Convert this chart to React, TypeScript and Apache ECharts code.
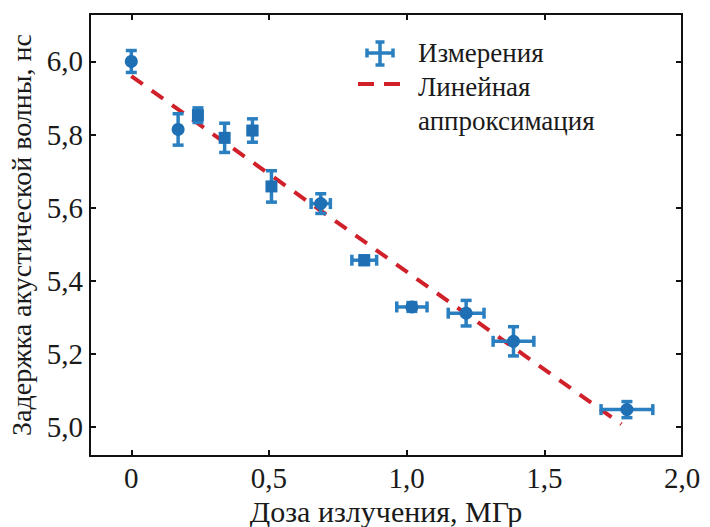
import React, { useEffect, useRef } from "react";
import * as echarts from "echarts";

const doseX = [0, 0.17, 0.242, 0.339, 0.44, 0.509, 0.688, 0.846, 1.019, 1.216, 1.388, 1.8];
const delayY = [6.0, 5.814, 5.853, 5.791, 5.811, 5.658, 5.611, 5.456, 5.328, 5.311, 5.234, 5.047];
const doseErr = [0, 0, 0.01, 0.01, 0.015, 0.01, 0.035, 0.045, 0.055, 0.065, 0.074, 0.094];
const delayErr = [0.03, 0.043, 0.02, 0.04, 0.032, 0.043, 0.027, 0.012, 0.012, 0.035, 0.04, 0.022];
const markerShapes = ["circle", "circle", "rect", "rect", "rect", "rect", "circle", "rect", "circle", "circle", "circle", "circle"];
const fitX = [0, 1.78];
const fitY = [5.96, 5.007];
const xTicks = [0, 0.5, 1.0, 1.5, 2.0];
const yTicks = [5.0, 5.2, 5.4, 5.6, 5.8, 6.0];

const BLUE = "#1f6fb4";
const BAR = "#2a7fc0";
const RED = "#d0202a";
const FONT = "Times New Roman, Liberation Serif, DejaVu Serif, serif";
const fmt = (v: number) => (v === 0 ? "0" : v.toFixed(1).replace(".", ","));

export default function App() {
  const ref = useRef<HTMLDivElement>(null);
  useEffect(() => {
    if (!ref.current) return;
    const chart = echarts.init(ref.current, undefined, { renderer: "svg" });
    const lineStyle = { color: "#111", width: 2 };
    const tick = (vals: number[]) => ({ show: true, inside: true, length: 6, customValues: vals, lineStyle });
    const xBase = { type: "value", min: -0.15, max: 2.0, splitLine: { show: false } };
    const yBase = { type: "value", min: 4.92, max: 6.13, splitLine: { show: false } };
    const labelStyle = { fontFamily: FONT, fontSize: 29, color: "#1a1a1a" };
    const option: any = {
      animation: false,
      backgroundColor: "#fff",
      textStyle: { fontFamily: FONT },
      grid: { left: 90, right: 28, top: 14, bottom: 71, containLabel: false, outerBoundsMode: "none" },
      xAxis: [
        {
          ...xBase,
          position: "bottom",
          axisLine: { show: true, onZero: false, lineStyle },
          axisTick: tick(xTicks),
          axisLabel: { ...labelStyle, customValues: xTicks, formatter: fmt, margin: 7 },
          name: "Доза излучения, МГр",
          nameLocation: "middle",
          nameGap: 35,
          nameTextStyle: { fontFamily: FONT, fontSize: 30, color: "#1a1a1a" },
        },
        {
          ...xBase,
          position: "top",
          axisLine: { show: true, onZero: false, lineStyle },
          axisTick: tick(xTicks),
          axisLabel: { show: false },
        },
      ],
      yAxis: [
        {
          ...yBase,
          position: "left",
          axisLine: { show: true, onZero: false, lineStyle },
          axisTick: tick(yTicks),
          axisLabel: { ...labelStyle, customValues: yTicks, formatter: fmt, margin: 7 },
          name: "Задержка акустической волны, нс",
          nameLocation: "middle",
          nameRotate: 90,
          nameGap: 44,
          nameTextStyle: { fontFamily: FONT, fontSize: 28, color: "#1a1a1a" },
        },
        {
          ...yBase,
          position: "right",
          axisLine: { show: true, onZero: false, lineStyle },
          axisTick: tick(yTicks),
          axisLabel: { show: false },
        },
      ],
      series: [
        {
          type: "line",
          name: "Линейная аппроксимация",
          xAxisIndex: 0,
          yAxisIndex: 0,
          z: 1,
          symbol: "none",
          lineStyle: { color: RED, width: 4, type: [14, 11] },
          data: fitX.map((x, i) => [x, fitY[i]]),
        },
        {
          type: "custom",
          name: "Измерения",
          xAxisIndex: 0,
          yAxisIndex: 0,
          data: doseX.map((x, i) => [x, delayY[i], doseErr[i], delayErr[i]]),
          encode: { x: 0, y: 1 },
          z: 2,
          renderItem: (_p: any, api: any) => {
            const x = api.value(0);
            const y = api.value(1);
            const ex = api.value(2);
            const ey = api.value(3);
            const style = { stroke: BAR, lineWidth: 3.5 };
            const cap = 5.5;
            const children: any[] = [];
            if (ey > 0) {
              const t = api.coord([x, y + ey]);
              const b = api.coord([x, y - ey]);
              children.push({ type: "line", shape: { x1: t[0], y1: t[1], x2: b[0], y2: b[1] }, style });
              children.push({ type: "line", shape: { x1: t[0] - cap, y1: t[1], x2: t[0] + cap, y2: t[1] }, style });
              children.push({ type: "line", shape: { x1: b[0] - cap, y1: b[1], x2: b[0] + cap, y2: b[1] }, style });
            }
            if (ex > 0) {
              const l = api.coord([x - ex, y]);
              const r = api.coord([x + ex, y]);
              children.push({ type: "line", shape: { x1: l[0], y1: l[1], x2: r[0], y2: r[1] }, style });
              children.push({ type: "line", shape: { x1: l[0], y1: l[1] - cap, x2: l[0], y2: l[1] + cap }, style });
              children.push({ type: "line", shape: { x1: r[0], y1: r[1] - cap, x2: r[0], y2: r[1] + cap }, style });
            }
            return { type: "group", children };
          },
        },
        {
          type: "scatter",
          xAxisIndex: 0,
          yAxisIndex: 0,
          z: 3,
          itemStyle: { color: BLUE, opacity: 1 },
          data: doseX.map((x, i) => ({ value: [x, delayY[i]], symbol: markerShapes[i], symbolSize: markerShapes[i] === "rect" ? 12 : 13 })),
        },
      ],
      graphic: [
        { type: "line", shape: { x1: 380, y1: 42, x2: 380, y2: 65 }, style: { stroke: BAR, lineWidth: 3.5 } },
        { type: "line", shape: { x1: 375.5, y1: 42, x2: 384.5, y2: 42 }, style: { stroke: BAR, lineWidth: 3.5 } },
        { type: "line", shape: { x1: 375.5, y1: 65, x2: 384.5, y2: 65 }, style: { stroke: BAR, lineWidth: 3.5 } },
        { type: "line", shape: { x1: 367, y1: 53, x2: 393, y2: 53 }, style: { stroke: BAR, lineWidth: 3.5 } },
        { type: "line", shape: { x1: 367, y1: 48.5, x2: 367, y2: 57.5 }, style: { stroke: BAR, lineWidth: 3.5 } },
        { type: "line", shape: { x1: 393, y1: 48.5, x2: 393, y2: 57.5 }, style: { stroke: BAR, lineWidth: 3.5 } },
        { type: "line", shape: { x1: 358, y1: 84, x2: 374, y2: 84 }, style: { stroke: RED, lineWidth: 4 } },
        { type: "line", shape: { x1: 384, y1: 84, x2: 400, y2: 84 }, style: { stroke: RED, lineWidth: 4 } },
        { type: "text", x: 418, y: 53, style: { text: "Измерения", font: `27px ${FONT}`, fill: "#1a1a1a", verticalAlign: "middle" } },
        { type: "text", x: 418, y: 87, style: { text: "Линейная", font: `27px ${FONT}`, fill: "#1a1a1a", verticalAlign: "middle" } },
        { type: "text", x: 418, y: 121, style: { text: "аппроксимация", font: `27px ${FONT}`, fill: "#1a1a1a", verticalAlign: "middle" } },
      ],
    };
    chart.setOption(option);
    return () => chart.dispose();
  }, []);
  return <div ref={ref} style={{ width: 710, height: 527, position: "absolute", left: 0, top: 0 }} />;
}
